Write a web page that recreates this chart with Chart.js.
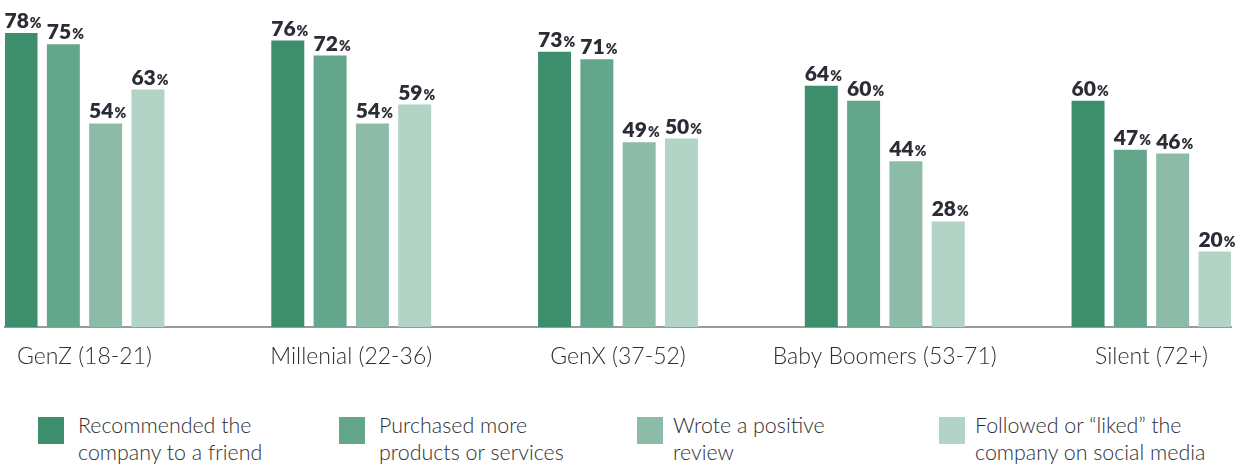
<!DOCTYPE html>
<html>
<head>
<meta charset="utf-8">
<script src="https://cdn.jsdelivr.net/npm/chart.js@4"></script>
<style>
  html, body { margin: 0; padding: 0; background: #ffffff; }
  #wrap { position: relative; width: 1249px; height: 467px; overflow: hidden; }
  #chartBox { position: absolute; left: 0; top: 0; width: 1249px; height: 385px; }
  .leg { position: absolute; top: 412px; font-family: Lato, "Open Sans", sans-serif; font-size: 21.4px; line-height: 27px; color: #2e2e34; font-weight: 300; }
  .leg .sw { position: absolute; left: 0; top: 5px; width: 26px; height: 27px; }
  .leg .tx { position: absolute; white-space: nowrap; }
</style>
</head>
<body>
<div id="wrap">
  <div id="chartBox"><canvas id="c"></canvas></div>
  <div id="legend"></div>
</div>
<script>
const categories = ['GenZ (18-21)', 'Millenial (22-36)', 'GenX (37-52)', 'Baby Boomers (53-71)', 'Silent (72+)'];
const seriesLabels = [
  ['Recommended the', 'company to a friend'],
  ['Purchased more', 'products or services'],
  ['Wrote a positive', 'review'],
  ['Followed or \u201cliked\u201d the', 'company on social media']
];
const recommended = [78, 76, 73, 64, 60];
const purchased = [75, 72, 71, 60, 47];
const review = [54, 54, 49, 44, 46];
const followed = [63, 59, 50, 28, 20];
const seriesValues = [recommended, purchased, review, followed];
const colors = ['#3d8e6d', '#63a68b', '#8cbca8', '#b1d4c7'];

const datasets = seriesValues.map((vals, s) => ({
  label: seriesLabels[s].join(' '),
  data: vals.map((v, i) => ({ x: i, y: v })),
  backgroundColor: colors[s],
  borderWidth: 0,
  categoryPercentage: 0.6343,
  barPercentage: 0.78
}));

const valueLabels = {
  id: 'valueLabels',
  afterDatasetsDraw(chart) {
    const ctx = chart.ctx;
    ctx.save();
    ctx.fillStyle = '#2c2c36';
    ctx.textBaseline = 'alphabetic';
    ctx.textAlign = 'left';
    chart.data.datasets.forEach((ds, di) => {
      const meta = chart.getDatasetMeta(di);
      meta.data.forEach((el, i) => {
        const num = String(seriesValues[di][i]);
        ctx.font = '800 21px Lato, sans-serif';
        const w1 = ctx.measureText(num).width;
        ctx.font = '800 14px Lato, sans-serif';
        const w2 = ctx.measureText('%').width;
        const total = w1 + 1 + w2;
        const x0 = el.x + 2 - total / 2;
        const yb = el.y - 5;
        ctx.font = '800 21px Lato, sans-serif';
        ctx.fillText(num, x0, yb);
        ctx.font = '800 14px Lato, sans-serif';
        ctx.fillText('%', x0 + w1 + 1, yb);
      });
    });
    ctx.restore();
  }
};

new Chart(document.getElementById('c'), {
  type: 'bar',
  data: { datasets },
  options: {
    responsive: true,
    maintainAspectRatio: false,
    animation: false,
    layout: { padding: { left: 5, right: 18, top: 0, bottom: 0 } },
    plugins: { legend: { display: false }, tooltip: { enabled: false } },
    scales: {
      x: {
        type: 'linear',
        offset: false,
        min: -0.298,
        max: 4.298,
        grid: { display: false, drawTicks: false, offset: false },
        border: { display: true, color: '#9a9a9a', width: 2 },
        ticks: {
          stepSize: 1,
          includeBounds: false,
          autoSkip: false,
          maxRotation: 0,
          padding: 16,
          color: '#2e2e34',
          font: { family: 'Lato, sans-serif', size: 23, weight: '300' },
          callback: (v) => Number.isInteger(v) && categories[v] !== undefined ? categories[v] : ''
        },
        afterFit: (s) => { s.height = 58; }
      },
      y: {
        display: false,
        min: 0,
        max: 86.75
      }
    }
  },
  plugins: [valueLabels]
});

// Legend (HTML), built from the series arrays
const legendLeft = [38, 339, 637, 939];
const legend = document.getElementById('legend');
seriesLabels.forEach((lines, s) => {
  const item = document.createElement('div');
  item.className = 'leg';
  item.style.left = legendLeft[s] + 'px';
  const sw = document.createElement('div');
  sw.className = 'sw';
  sw.style.background = colors[s];
  const tx = document.createElement('div');
  tx.className = 'tx';
  tx.style.left = (s < 2 ? 40 : 36) + 'px';
  tx.innerHTML = lines.map(l => l.replace(/&/g, '&amp;')).join('<br>');
  item.appendChild(sw);
  item.appendChild(tx);
  legend.appendChild(item);
});
</script>
</body>
</html>
